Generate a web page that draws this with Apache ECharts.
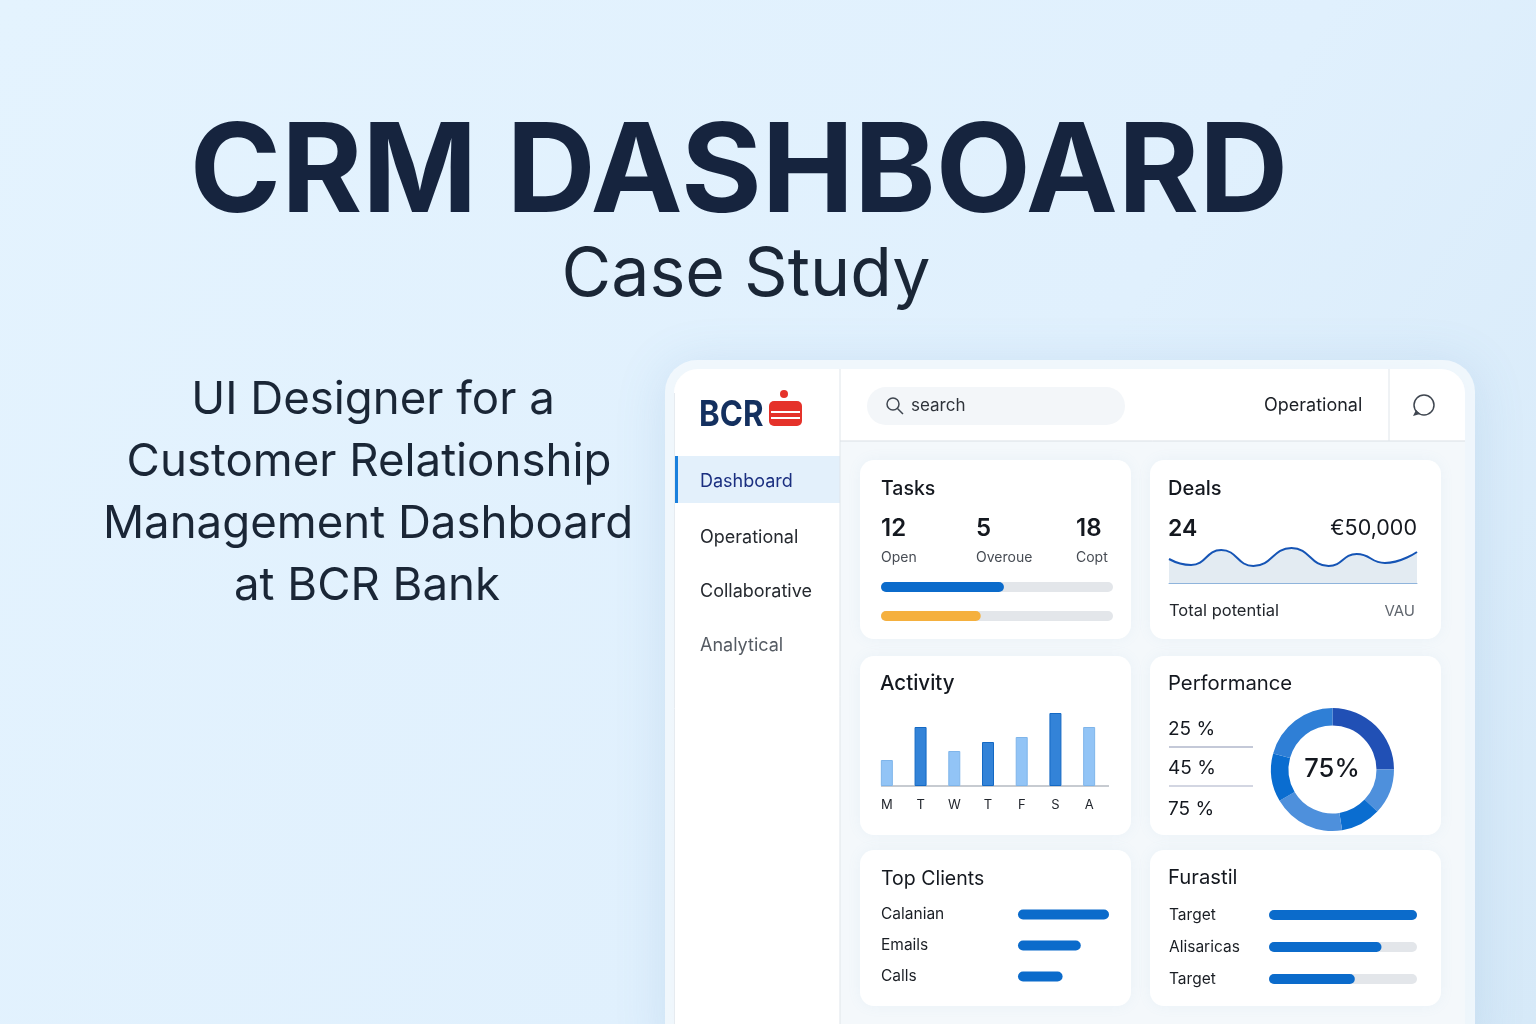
<!DOCTYPE html>
<html>
<head>
<meta charset="utf-8">
<title>CRM Dashboard</title>
<script src="https://cdn.jsdelivr.net/npm/echarts@6/dist/echarts.min.js"></script>
<style>html,body{margin:0;padding:0;background:#e3f2fe}#main{width:1536px;height:1024px}</style>
</head>
<body>
<div id="main"></div>
<script>
var FONT = 'Inter, "Noto Sans", sans-serif';

var navItems = ['Dashboard', 'Operational', 'Collaborative', 'Analytical'];
var taskCounts = ['12', '5', '18'];
var taskLabels = ['Open', 'Overoue', 'Copt'];
var taskBars = [53, 43];
var dealX = [0, 22, 52, 84, 122, 159, 187, 215, 247];
var dealValues = [24, 18, 33, 17, 35, 17, 29, 20, 31];
var activityDays = ['M', 'T', 'W', 'T', 'F', 'S', 'A'];
var activityValues = [26, 59, 35, 44, 49, 73, 59];
var perfLabels = ['25 %', '45 %', '75 %'];
var perfSlices = [25, 12, 10.5, 19, 12.7, 20.8];
var clientNames = ['Calanian', 'Emails', 'Calls'];
var clientValues = [100, 69, 49];
var furastilNames = ['Target', 'Alisaricas', 'Target'];
var furastilValues = [100, 76, 58];

var BLUE = '#0b6bcb';
var TRACK = '#e3e6ea';
var INK = '#1a2636';

function txt(text, x, y, size, fill, weight, align) {
    return {
        type: 'text', z: 10,
        style: {
            text: text, x: x, y: size < 30 ? y + 1 : y, fill: fill || '#14181f',
            font: (weight || 400) + ' ' + size + 'px ' + FONT,
            textAlign: align || 'left', textVerticalAlign: 'middle'
        }
    };
}
function box(x, y, w, h, r, fill, extra) {
    var st = { fill: fill };
    for (var k in extra) st[k] = extra[k];
    return { type: 'rect', z: 1, shape: { x: x, y: y, width: w, height: h, r: r }, style: st };
}
function rule(x1, y1, x2, y2, color, w) {
    return { type: 'line', z: 3, shape: { x1: x1, y1: y1, x2: x2, y2: y2 }, style: { stroke: color, lineWidth: w || 1 } };
}

var logoText = txt('BCR', 699, 415, 36, '#14305f', 700);
logoText.scaleX = 0.87;
logoText.originX = 699;

var cardShadow = { shadowBlur: 14, shadowColor: 'rgba(120,160,200,0.08)' };
var shapes = [
    // frame
    box(665, 360, 810, 700, 32, 'rgba(244,249,253,0.85)', { shadowBlur: 50, shadowColor: 'rgba(90,140,190,0.2)', shadowOffsetY: 6 }),
    box(674, 369, 791, 690, 24, '#f4f8fb'),
    box(674, 369, 166, 690, [24, 0, 0, 0], '#ffffff'),
    box(840, 369, 625, 72, [0, 24, 0, 0], '#ffffff'),
    rule(840, 369, 840, 1024, '#dfe5ea'),
    rule(840, 441, 1465, 441, '#d9dfe5'),
    rule(1389, 369, 1389, 441, '#dfe5ea'),
    rule(674.5, 393, 674.5, 1024, '#e6ebf0'),
    // sidebar highlight
    box(675, 456, 165, 47, 0, '#e3f0fb'),
    box(675, 456, 3, 47, 0, '#1a80dd'),
    // logo
    logoText,
    { type: 'circle', z: 5, shape: { cx: 784, cy: 394, r: 4 }, style: { fill: '#e5322a' } },
    box(769, 401, 33, 25, 5, '#e5322a'),
    box(771, 411, 29, 2, 0, '#ffffff'),
    box(771, 417, 29, 2, 0, '#ffffff'),
    // search
    box(867, 387, 258, 38, 19, '#f3f6f9'),
    { type: 'circle', z: 5, shape: { cx: 893, cy: 404, r: 6 }, style: { fill: 'none', stroke: '#3f4650', lineWidth: 1.5 } },
    rule(897.5, 408.5, 903, 414, '#3f4650', 1.5),
    txt('search', 911, 405, 17, '#2e333a'),
    txt('Operational', 1264, 405, 18, '#1c2026'),
    // chat icon
    { type: 'circle', z: 5, shape: { cx: 1424, cy: 405, r: 10 }, style: { fill: 'none', stroke: '#3f4650', lineWidth: 1.5 } },
    { type: 'polygon', z: 6, shape: { points: [[1413, 416], [1416, 410], [1420, 414]] }, style: { fill: '#3f4650' } },
    // cards
    box(860, 460, 271, 179, 14, '#ffffff', cardShadow),
    box(1150, 460, 291, 179, 14, '#ffffff', cardShadow),
    box(860, 656, 271, 179, 14, '#ffffff', cardShadow),
    box(1150, 656, 291, 179, 14, '#ffffff', cardShadow),
    box(860, 850, 271, 156, 14, '#ffffff', cardShadow),
    box(1150, 850, 291, 156, 14, '#ffffff', cardShadow),
    // headings
    txt('CRM DASHBOARD', 739, 175, 123.5, '#16243e', 700, 'center'),
    txt('Case Study', 746, 276, 68, INK, 400, 'center'),
    txt('UI Designer for a', 373, 400, 45.6, INK, 400, 'center'),
    txt('Customer Relationship', 369, 462, 45.6, INK, 400, 'center'),
    txt('Management Dashboard', 368, 524, 45.6, INK, 400, 'center'),
    txt('at BCR Bank', 367, 586, 45.6, INK, 400, 'center'),
    // sidebar text
    txt(navItems[0], 700, 481, 18, '#1b2f80'),
    txt(navItems[1], 700, 537, 18, '#25292f'),
    txt(navItems[2], 700, 591, 18, '#25292f'),
    txt(navItems[3], 700, 645, 18, '#555b63'),
    // card titles
    txt('Tasks', 881, 488, 19.5, '#14181f', 500),
    txt('Deals', 1168, 488, 20, '#14181f', 500),
    txt('Activity', 880, 683, 20.5, '#14181f', 500),
    txt('Performance', 1168, 683, 20.3, '#14181f', 400),
    txt('Top Clients', 881, 878, 19.5, '#14181f', 400),
    txt('Furastil', 1168, 877, 20.3, '#14181f', 400),
    // tasks figures
    txt(taskCounts[0], 881, 528, 24, '#14181f', 600),
    txt(taskCounts[1], 976, 528, 24, '#14181f', 600),
    txt(taskCounts[2], 1076, 528, 24, '#14181f', 600),
    txt(taskLabels[0], 881, 557, 14, '#474c54'),
    txt(taskLabels[1], 976, 557, 14, '#474c54'),
    txt(taskLabels[2], 1076, 557, 14, '#474c54'),
    // deals figures
    txt('24', 1168, 528, 23, '#14181f', 600),
    txt('€50,000', 1417, 528, 21.5, '#14181f', 400, 'right'),
    txt('Total potential', 1169, 610, 16.5, '#22262c'),
    txt('VAU', 1415, 610, 15, '#60666e', 400, 'right'),
    // performance list
    txt(perfLabels[0], 1168, 728, 19, '#14181f'),
    rule(1169, 747, 1253, 747, '#c4c9d8', 2),
    txt(perfLabels[1], 1168, 767, 19, '#14181f'),
    rule(1169, 786, 1253, 786, '#c4c9d8', 1.5),
    txt(perfLabels[2], 1168, 808, 19, '#14181f'),
    txt('75%', 1332, 768, 25.5, '#14181f', 500, 'center'),
    // activity baseline
    rule(881, 786, 1109, 786, '#b5bac2', 1.5)
];

// one thin horizontal bar chart, with or without a grey track
function hbar(idx, values, track, color) {
    return {
        type: 'bar', xAxisIndex: idx, yAxisIndex: idx, z: 5,
        barWidth: 10, data: values, silent: true,
        itemStyle: { color: color || BLUE, borderRadius: 5 },
        showBackground: !!track,
        backgroundStyle: { color: TRACK, borderRadius: 5 }
    };
}
function hxAxis(idx) {
    return { gridIndex: idx, type: 'value', min: 0, max: 100, show: false };
}
function hyAxis(idx, names, margin, padTop) {
    return {
        gridIndex: idx, type: 'category', inverse: true, z: 5,
        data: names, axisLine: { show: false }, axisTick: { show: false },
        axisLabel: {
            show: !!margin, margin: margin, align: 'left', padding: [padTop || 0, 0, 0, 0],
            fontFamily: FONT, fontSize: 15.5, color: '#1a1e24'
        }
    };
}

var option = {
    animation: false,
    backgroundColor: {
        type: 'linear', x: 0, y: 0, x2: 1, y2: 1,
        colorStops: [{ offset: 0, color: '#e4f3fe' }, { offset: 0.6, color: '#e0f0fd' }, { offset: 1, color: '#d6e9f8' }]
    },
    graphic: { elements: shapes },
    grid: [
        { left: 881, top: 572.5, width: 232, height: 58 },
        { left: 1169, top: 543, width: 248, height: 40 },
        { left: 870, top: 706, width: 236, height: 80 },
        { left: 1018, top: 899, width: 91, height: 93 },
        { left: 1269, top: 899, width: 148, height: 96 }
    ],
    xAxis: [
        hxAxis(0),
        {
            gridIndex: 1, type: 'value', min: 0, max: 247, z: 6,
            axisLine: { show: true, lineStyle: { color: '#8fb4dc', width: 1 } },
            axisTick: { show: false }, axisLabel: { show: false }, splitLine: { show: false }
        },
        {
            gridIndex: 2, type: 'category', data: activityDays, z: 5,
            axisLine: { show: false }, axisTick: { show: false },
            axisLabel: { margin: 13, fontFamily: FONT, fontSize: 13, color: '#23272e', interval: 0 }
        },
        hxAxis(3),
        hxAxis(4)
    ],
    yAxis: [
        hyAxis(0, ['a', 'b'], 0),
        { gridIndex: 1, type: 'value', min: 0, max: 40, show: false },
        { gridIndex: 2, type: 'value', min: 0, max: 80, show: false },
        hyAxis(3, clientNames, 137, 1),
        hyAxis(4, furastilNames, 100, 6)
    ],
    series: [
        {
            type: 'bar', xAxisIndex: 0, yAxisIndex: 0, z: 5, barWidth: 10, silent: true,
            data: [
                { value: taskBars[0], itemStyle: { color: BLUE } },
                { value: taskBars[1], itemStyle: { color: '#f5b03e' } }
            ],
            itemStyle: { borderRadius: 5 },
            showBackground: true,
            backgroundStyle: { color: TRACK, borderRadius: 5 }
        },
        {
            type: 'line', xAxisIndex: 1, yAxisIndex: 1, z: 5, smooth: 0.5, smoothMonotone: 'x', symbol: 'none',
            data: dealValues.map(function (v, i) { return [dealX[i], v]; }),
            lineStyle: { color: '#1554b5', width: 2 },
            areaStyle: { color: '#e3ebf2', opacity: 1 }
        },
        {
            type: 'bar', xAxisIndex: 2, yAxisIndex: 2, z: 5, barWidth: 12, silent: true,
            data: activityValues.map(function (v, i) {
                return {
                    value: v,
                    itemStyle: i % 2
                        ? { color: '#3383d8', borderColor: '#1469c4', borderWidth: 1 }
                        : { color: '#92c4f6', borderColor: '#7fb5ea', borderWidth: 1 }
                };
            })
        },
        hbar(3, clientValues, false),
        hbar(4, furastilValues, true),
        {
            type: 'pie', z: 5, silent: true, center: [1332.5, 769.5], radius: [44, 61.5], startAngle: 90,
            label: { show: false }, labelLine: { show: false },
            data: perfSlices,
            itemStyle: {
                color: function (p) { return ['#2150b5', '#4e90dc', '#0a6dd0', '#4e90dc', '#0a6dd0', '#2f7fd6'][p.dataIndex]; }
            }
        }
    ]
};

var myChart = echarts.init(document.getElementById('main'));
myChart.setOption(option);
</script>
</body>
</html>
